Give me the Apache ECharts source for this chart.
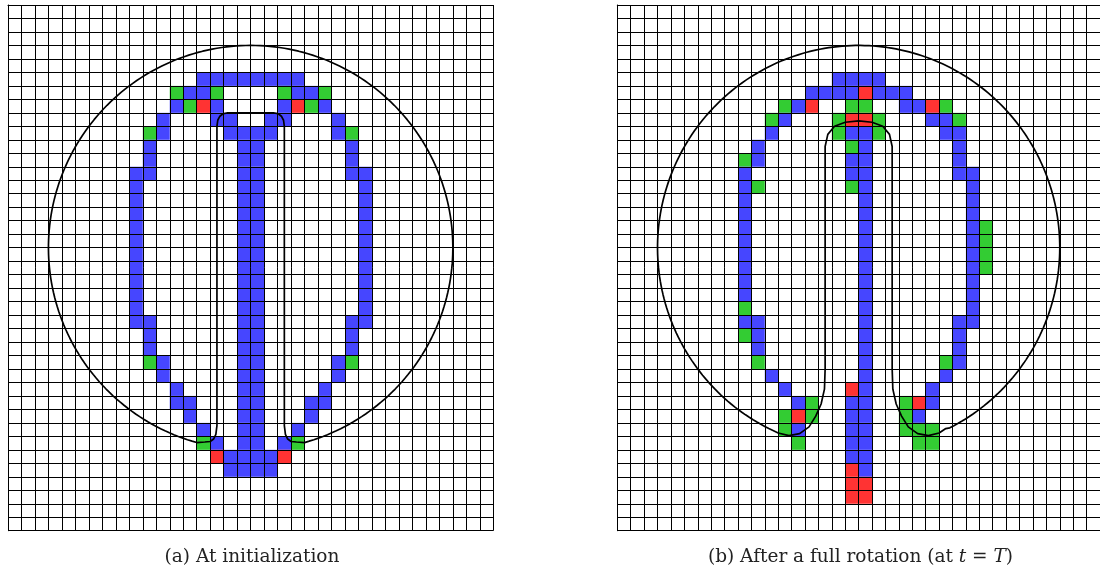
<!DOCTYPE html>
<html><head><meta charset="utf-8">
<script src="https://cdn.jsdelivr.net/npm/echarts@6/dist/echarts.min.js"></script>
<style>html,body{margin:0;padding:0;background:#fff}#c{width:1100px;height:572px}</style>
</head><body><div id="c"></div>
<script>
// ---------------- DATA ----------------
const NCOLS = 36, NROWS = 39;
// cell maps: one string per grid row (top to bottom), one char per column; b=blue g=green r=red .=empty
const leftCells = [
"....................................",
"....................................",
"....................................",
"....................................",
"....................................",
"..............bbbbbbbb..............",
"............gbbg....gbbg............",
"............bgrb....brgb............",
"...........b...bb..bb...b...........",
"..........gb....bbbb....bg..........",
"..........b......bb......b..........",
"..........b......bb......b..........",
".........bb......bb......bb.........",
".........b.......bb.......b.........",
".........b.......bb.......b.........",
".........b.......bb.......b.........",
".........b.......bb.......b.........",
".........b.......bb.......b.........",
".........b.......bb.......b.........",
".........b.......bb.......b.........",
".........b.......bb.......b.........",
".........b.......bb.......b.........",
".........b.......bb.......b.........",
".........bb......bb......bb.........",
"..........b......bb......b..........",
"..........b......bb......b..........",
"..........gb.....bb.....bg..........",
"...........b.....bb.....b...........",
"............b....bb....b............",
"............bb...bb...bb............",
".............b...bb...b.............",
"..............b..bb..b..............",
"..............gb.bb.bg..............",
"...............rbbbbr...............",
"................bbbb................",
"....................................",
"....................................",
"....................................",
"...................................."
];
const rightCells = [
"....................................",
"....................................",
"....................................",
"....................................",
"....................................",
"................bbbb................",
"..............bbbbrbbb..............",
"............gbr..gg..bbrg...........",
"...........gb...grrg...bbg..........",
"...........b....gbbg....bb..........",
"..........b......gb......b..........",
".........gb......bb......b..........",
".........b.......bb......bb.........",
".........bg......gb.......b.........",
".........b........b.......b.........",
".........b........b.......b.........",
".........b........b.......bg........",
".........b........b.......bg........",
".........b........b.......bg........",
".........b........b.......bg........",
".........b........b.......b.........",
".........b........b.......b.........",
".........g........b.......b.........",
".........bb.......b......bb.........",
".........gb.......b......b..........",
"..........b.......b......b..........",
"..........g.......b.....gb..........",
"...........b......b.....b...........",
"............b....rb....b............",
".............bg..bb..grb............",
"............grg..bb..gb.............",
"............gb...bb..ggg............",
".............g...bb...gg............",
".................bb.................",
".................rb.................",
".................rr.................",
".................rr.................",
"....................................",
"...................................."
];
// contour geometry (cell units, y downward): outer circle + slot outline points
const circleCenter = [18, 18];
const circleRadius = 15;
const leftArcEnds = [14.0, 22.0];      // x where the circle arc meets the slot outline (left, right)
const leftSlotPts = [
  [14.0, 32.46], [14.6, 32.42], [15.0, 32.38], [15.25, 32.2], [15.42, 31.85], [15.5, 31.2],
  [15.5, 9.0], [15.56, 8.55], [15.72, 8.25], [15.95, 8.07], [16.3, 8.0],
  [19.7, 8.0], [20.05, 8.07], [20.28, 8.25], [20.44, 8.55], [20.5, 9.0],
  [20.5, 31.2], [20.58, 31.85], [20.75, 32.2], [21.0, 32.38], [21.4, 32.42], [22.0, 32.46]
];
const rightArcEnds = [11.3, 24.5];
const rightSlotPts = [
  [11.3, 31.42], [12.0, 31.75], [12.8, 31.95], [13.6, 31.8], [14.3, 31.3], [14.8, 30.5],
  [15.2, 29.6], [15.45, 28.5], [15.5, 27], [15.5, 10.5], [15.7, 9.6], [16.2, 9.0], [17, 8.7],
  [18, 8.6], [19, 8.7], [19.8, 9.0], [20.3, 9.6], [20.5, 10.5], [20.5, 27], [20.55, 28.5],
  [20.8, 29.6], [21.2, 30.5], [21.7, 31.3], [22.4, 31.8], [23.2, 31.95], [24.0, 31.75], [24.5, 31.42]
];
const captionA = '(a) At initialization';
const captionB = ['(b) After a full rotation (at ', 't', ' = ', 'T', ')'];
const COLORS = { b: '#4646ff', g: '#33cc33', r: '#ff3333' };

// ---------------- BUILD ----------------
function cellsOf(map) {
  const out = [];
  map.forEach((row, r) => { for (let c = 0; c < row.length; c++) { const ch = row[c]; if (COLORS[ch]) out.push([c, r, ch]); } });
  return out;
}
function contour(arcEnds, slotPts) {
  const [cx, cy] = circleCenter, R = circleRadius;
  const pts = slotPts.slice();
  const a1 = Math.acos((arcEnds[1] - cx) / R);
  const a0 = -(2 * Math.PI - Math.acos((arcEnds[0] - cx) / R));
  const N = 240;
  for (let i = 1; i <= N; i++) {
    const a = a1 + (a0 - a1) * i / N;
    pts.push([cx + R * Math.cos(a), cy + R * Math.sin(a)]);
  }
  return pts;
}
const CELL = 13.48;
const grids = [
  { left: 8, top: 5, width: NCOLS * CELL, height: NROWS * CELL },
  { left: 617.3, top: 5, width: NCOLS * CELL, height: NROWS * CELL }
];
function xAx(i) {
  return { gridIndex: i, type: 'value', min: 0, max: NCOLS, interval: 1, z: 5,
    axisLine: { show: true, lineStyle: { color: '#000', width: 1 } },
    axisTick: { show: true, length: 3.5, lineStyle: { color: '#000', width: 1 } },
    axisLabel: { show: false },
    splitLine: { show: true, lineStyle: { color: '#000', width: 1 } } };
}
function yAx(i) {
  return { gridIndex: i, type: 'value', min: 0, max: NROWS, interval: 1, inverse: true, position: 'right', z: 5,
    axisLine: { show: true, lineStyle: { color: '#000', width: 1 } },
    axisTick: { show: true, length: 4.4, lineStyle: { color: '#000', width: 1 } },
    axisLabel: { show: false },
    splitLine: { show: true, lineStyle: { color: '#000', width: 1 } } };
}
function cellSeries(i, map) {
  const cells = cellsOf(map);
  return { type: 'custom', xAxisIndex: i, yAxisIndex: i, z: 2, silent: true,
    data: cells.map(d => [d[0], d[1]]),
    renderItem: function (params, api) {
      const c = api.value(0), r = api.value(1);
      const ch = cells[params.dataIndex][2];
      const p0 = api.coord([c, r]), p1 = api.coord([c + 1, r + 1]);
      return { type: 'rect', shape: { x: p0[0], y: p0[1], width: p1[0] - p0[0], height: p1[1] - p0[1] },
        style: { fill: COLORS[ch] } };
    } };
}
function lineSeries(i, pts) {
  return { type: 'line', xAxisIndex: i, yAxisIndex: i, z: 10, silent: true, data: pts,
    showSymbol: false, symbol: 'none', smooth: false, animation: false,
    lineStyle: { color: '#000', width: 1.7 } };
}
const chart = echarts.init(document.getElementById('c'), null, { renderer: 'canvas' });
const capFont = '"DejaVu Serif"';
chart.setOption({
  animation: false,
  backgroundColor: '#fff',
  grid: grids,
  xAxis: [xAx(0), xAx(1)],
  yAxis: [yAx(0), yAx(1)],
  series: [
    cellSeries(0, leftCells), cellSeries(1, rightCells),
    lineSeries(0, contour(leftArcEnds, leftSlotPts)),
    lineSeries(1, contour(rightArcEnds, rightSlotPts))
  ],
  graphic: [
    { type: 'text', x: 252, y: 557, style: { text: captionA, font: '18.5px ' + capFont, fill: '#222', align: 'center', verticalAlign: 'middle' } },
    { type: 'text', x: 860.5, y: 557, style: {
      text: '{n|' + captionB[0] + '}{i|' + captionB[1] + '}{n|' + captionB[2] + '}{i|' + captionB[3] + '}{n|' + captionB[4] + '}',
      align: 'center', verticalAlign: 'middle',
      rich: { n: { font: '18.5px ' + capFont, fill: '#222' }, i: { font: 'italic 18.5px ' + capFont, fill: '#222' } } } }
  ]
});
</script></body></html>
